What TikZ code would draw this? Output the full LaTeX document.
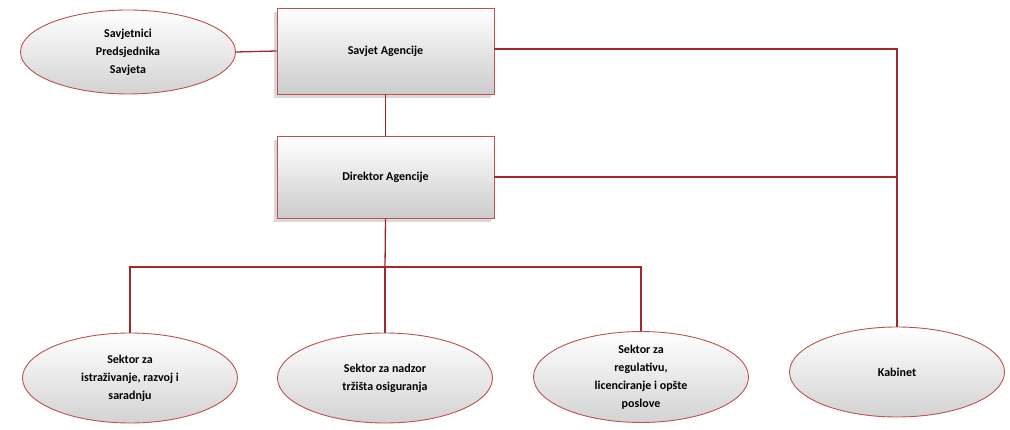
\documentclass[tikz,border=0pt]{standalone}
\usepackage{fontspec}
\setmainfont{Carlito}
\usetikzlibrary{shadows,shapes.geometric}
\definecolor{lnred}{HTML}{A3262B}
\definecolor{bdred}{HTML}{C0504D}
\begin{document}
\begin{tikzpicture}[x=1pt,y=-1pt,
  box/.style={draw=bdred,line width=0.9pt,top color=white,bottom color=gray!40,minimum width=217pt,minimum height=86pt,font=\fontsize{12}{15}\selectfont\bfseries,drop shadow={shadow xshift=-3pt,shadow yshift=-4pt,opacity=0.3}},
  ell/.style={ellipse,draw=bdred,line width=0.9pt,top color=white,bottom color=gray!35,minimum width=215pt,minimum height=88pt,align=center,font=\fontsize{12}{18}\selectfont\bfseries,inner sep=0pt},
  ln/.style={draw=lnred,line width=1.3pt}]
\useasboundingbox (0,0) rectangle (1010,430);
\node[box] (sa) at (385.5,51) {Savjet Agencije};
\node[box,minimum height=82pt] (da) at (385.5,177) {Direktor Agencije};
\node[ell,minimum height=84pt] (sp) at (128,52) {Savjetnici\\Predsjednika\\Savjeta};
\node[ell,minimum height=90pt] (s1) at (130,378) {Sektor za\\istraživanje, razvoj i\\saradnju};
\node[ell,minimum height=90pt] (s2) at (385,378) {Sektor za nadzor\\tržišta osiguranja};
\node[ell,minimum height=90pt] (s3) at (641,377) {Sektor za\\regulativu,\\licenciranje i opšte\\poslove};
\node[ell,minimum height=90pt] (kb) at (897,372) {Kabinet};
\coordinate (j) at (385,267);
\coordinate (rt) at (897,49);
\path[ln] (sp.east) -- (sa.west);
\path[ln] (sa.south) -- (da.north);
\path[ln] (sa.east |- rt) -- (rt) -- (kb.north);
\path[ln] (da.east) -- (kb.north |- da.east);
\path[ln] (da.south) -- (j);
\path[ln] (s1.north) -- (s1.north |- j) -- (s3.north |- j) -- (s3.north);
\path[ln] (j) -- (s2.north);
\end{tikzpicture}
\end{document}
